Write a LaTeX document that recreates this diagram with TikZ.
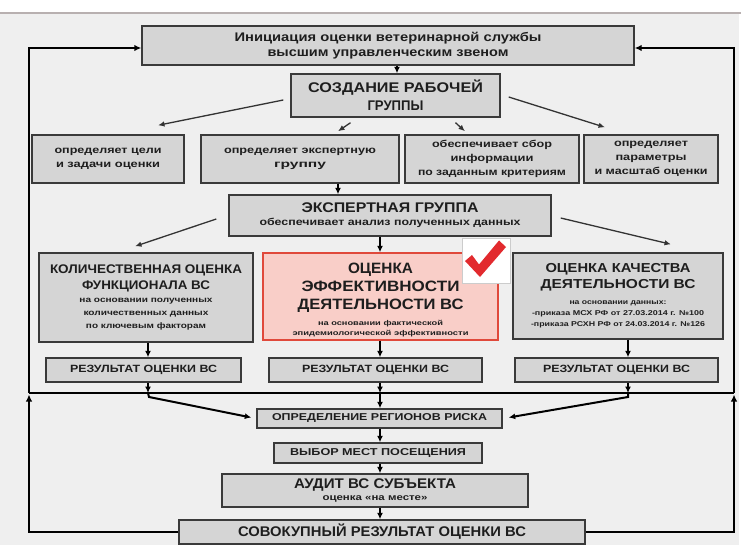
\documentclass[tikz,border=0pt]{standalone}
\usepackage{fontspec}
\setmainfont{Liberation Sans}
\usepackage{graphicx}
\usetikzlibrary{arrows.meta,calc}
\newlength\fitlen
\newcommand\fitw[2]{\settowidth\fitlen{#2}\scalebox{\fpeval{(#1)/(\the\fitlen)}}[1]{#2}}
\definecolor{boxfill}{HTML}{D5D5D5}
\definecolor{boxline}{HTML}{3A3A3A}
\definecolor{pinkfill}{HTML}{F9CEC8}
\definecolor{redline}{HTML}{E0493B}
\definecolor{bgc}{HTML}{EFEFEF}
\definecolor{stripc}{HTML}{B8B0B0}
\definecolor{checkred}{HTML}{E22A2E}
\definecolor{txt}{HTML}{1E1E1E}
\definecolor{arrgray}{HTML}{333333}
\begin{document}
\begin{tikzpicture}[x=1pt,y=-1pt,
  box/.style={rectangle, draw=boxline, fill=boxfill, line width=1.4pt, inner sep=0pt, align=center, text=txt},
  pinkbox/.style={box, draw=redline, fill=pinkfill},
  checkbox/.style={rectangle, draw=black!20, fill=white, line width=0.8pt, inner sep=0pt},
  arr/.style={line width=2pt, draw=black, -{Latex[length=6.5pt,width=6pt]}},
  tarr/.style={line width=1.3pt, draw=arrgray, -{Latex[length=6.5pt,width=5.5pt]}},
  fbline/.style={line width=2pt, draw=black},
  fbarr/.style={line width=2pt, draw=black, -{Latex[length=7pt,width=6.5pt]}}]
\useasboundingbox (0,0) rectangle (741,545);
\fill[white] (0,0) rectangle (741,545);
\fill[bgc] (0,13) rectangle (739,545);
\draw[stripc, line width=2pt] (0,13) -- (741,13);

% nodes
\node[box, minimum width=492pt, minimum height=39pt, font=\bfseries\fontsize{12.5}{15}\selectfont] (top) at (388,45.5)
  {\fitw{307}{Инициация оценки ветеринарной службы}\\\fitw{241}{высшим управленческим звеном}};
\node[box, minimum width=209pt, minimum height=43pt, font=\bfseries\fontsize{14}{18}\selectfont] (sozd) at (395.5,95.5)
  {\fitw{175}{СОЗДАНИЕ РАБОЧЕЙ}\\\fitw{56}{ГРУППЫ}};
\node[box, minimum width=152pt, minimum height=48pt, font=\bfseries\fontsize{10}{14}\selectfont] (b1) at (108,159)
  {\fitw{107}{определяет цели}\\\fitw{104}{и задачи оценки}};
\node[box, minimum width=198pt, minimum height=48pt, font=\bfseries\fontsize{10}{14}\selectfont] (b2) at (300,159)
  {\fitw{152}{определяет экспертную}\\\fitw{52}{группу}};
\node[box, minimum width=174pt, minimum height=48pt, font=\bfseries\fontsize{10}{14}\selectfont] (b3) at (492,159)
  {\fitw{120}{обеспечивает сбор}\\\fitw{83}{информации}\\\fitw{148}{по заданным критериям}};
\node[box, minimum width=134pt, minimum height=48pt, font=\bfseries\fontsize{10}{14}\selectfont] (b4) at (651,159)
  {\fitw{74}{определяет}\\\fitw{71}{параметры}\\\fitw{113}{и масштаб оценки}};
\node[box, minimum width=322pt, minimum height=41pt, font=\bfseries\fontsize{14}{13}\selectfont] (eksp) at (390,215.5)
  {\fitw{177}{ЭКСПЕРТНАЯ ГРУППА}\\{\fontsize{10}{13}\selectfont\fitw{261}{обеспечивает анализ полученных данных}}};
\node[box, minimum width=214pt, minimum height=89pt, font=\bfseries\fontsize{12.5}{13}\selectfont] (kol) at (146,297.5)
  {\fitw{192}{КОЛИЧЕСТВЕННАЯ ОЦЕНКА}\\[3pt]\fitw{128}{ФУНКЦИОНАЛА ВС}\\
   {\fontsize{8}{10}\selectfont\fitw{133}{на основании полученных}}\\
   {\fontsize{8}{10}\selectfont\fitw{125}{количественных данных}}\\
   {\fontsize{8}{10}\selectfont\fitw{120}{по ключевым факторам}}};
\node[pinkbox, minimum width=235pt, minimum height=87pt, font=\bfseries\fontsize{15}{18}\selectfont] (eff) at (380.5,296.5)
  {\rule{0pt}{18pt}\fitw{65}{ОЦЕНКА}\\\fitw{158}{ЭФФЕКТИВНОСТИ}\\\fitw{166}{ДЕЯТЕЛЬНОСТИ ВС}\\[-2pt]
   {\fontsize{7}{9}\selectfont\fitw{125}{на основании фактической}}\\[-8pt]
   {\fontsize{7}{9}\selectfont\fitw{176}{эпидемиологической эффективности}}};
\node[checkbox, minimum width=48pt, minimum height=45pt] (check) at (486,260.5) {};
\node[box, minimum width=210pt, minimum height=86pt, font=\bfseries\fontsize{13}{16}\selectfont] (kach) at (618,296)
  {\fitw{145}{ОЦЕНКА КАЧЕСТВА}\\\fitw{155}{ДЕЯТЕЛЬНОСТИ ВС}\\
   {\fontsize{7}{9}\selectfont\fitw{97}{на основании данных:}}\\[-5pt]
   {\fontsize{7}{9}\selectfont\fitw{172}{-приказа МСХ РФ от 27.03.2014 г. №100}}\\[-5pt]
   {\fontsize{7}{9}\selectfont\fitw{174}{-приказа РСХН РФ от 24.03.2014 г. №126}}};
\node[box, minimum width=195pt, minimum height=24pt, font=\bfseries\fontsize{10.5}{12}\selectfont] (r1) at (143.5,370)
  {\fitw{147}{РЕЗУЛЬТАТ ОЦЕНКИ ВС}};
\node[box, minimum width=213pt, minimum height=24pt, font=\bfseries\fontsize{10.5}{12}\selectfont] (r2) at (375.5,370)
  {\fitw{147}{РЕЗУЛЬТАТ ОЦЕНКИ ВС}};
\node[box, minimum width=203pt, minimum height=24pt, font=\bfseries\fontsize{10.5}{12}\selectfont] (r3) at (616.5,370)
  {\fitw{147}{РЕЗУЛЬТАТ ОЦЕНКИ ВС}};
\node[box, minimum width=245pt, minimum height=19pt, font=\bfseries\fontsize{10}{12}\selectfont] (orp) at (379.5,418.5)
  {\fitw{215}{ОПРЕДЕЛЕНИЕ РЕГИОНОВ РИСКА}};
\node[box, minimum width=208pt, minimum height=20pt, font=\bfseries\fontsize{10}{12}\selectfont] (vyb) at (378,453)
  {\fitw{176}{ВЫБОР МЕСТ ПОСЕЩЕНИЯ}};
\node[box, minimum width=306pt, minimum height=33pt, font=\bfseries\fontsize{14}{12.5}\selectfont] (aud) at (375,490.5)
  {\fitw{162}{АУДИТ ВС СУБЪЕКТА}\\{\fontsize{9}{12}\selectfont\fitw{105}{оценка «на месте»}}};
\node[box, minimum width=406pt, minimum height=24pt, font=\bfseries\fontsize{14}{16}\selectfont] (sov) at (382,532)
  {\fitw{288}{СОВОКУПНЫЙ РЕЗУЛЬТАТ ОЦЕНКИ ВС}};

% checkmark
\fill[checkred] ($(check.center)+(-21,0.5)$) -- ($(check.center)+(-14,-5.5)$) -- ($(check.center)+(-7,4)$)
  -- ($(check.center)+(13,-20)$) -- ($(check.center)+(20,-13.5)$) -- ($(check.center)+(-6,16.5)$) -- cycle;

% helper coordinates
\coordinate (cA) at (397,0);
\coordinate (cB) at (338,0);
\coordinate (cC) at (380,0);
\coordinate (cL) at (148,0);
\coordinate (cR) at (628,0);
\coordinate (fL) at (29,48);
\coordinate (fR) at (734,48);
\coordinate (hl) at (0,393);

% connectors
\draw[arr] (top.south -| cA) -- (sozd.north -| cA);
\draw[tarr] ($(sozd.west)+(-7,4.5)$) -- ($(b1.north)+(50,-9)$);
\draw[tarr] ($(sozd.south)+(-45,5)$) -- ($(b2.north)+(38,-3)$);
\draw[tarr] ($(sozd.south)+(60,5)$) -- ($(b3.north)+(-27,-3)$);
\draw[tarr] ($(sozd.east)+(8,1.5)$) -- ($(b4.north)+(-46,-7)$);
\draw[arr] (b2.south -| cB) -- (eksp.north -| cB);
\draw[tarr] ($(eksp.west)+(-12,3.5)$) -- ($(kol.north)+(-11,-6)$);
\draw[arr] (eksp.south -| cC) -- (eff.north -| cC);
\draw[tarr] ($(eksp.east)+(9,2.5)$) -- ($(kach.north)+(53,-8)$);
\draw[arr] (kol.south -| cL) -- (r1.north -| cL);
\draw[arr] (eff.south -| cC) -- (r2.north -| cC);
\draw[arr] (kach.south -| cR) -- (r3.north -| cR);

% feedback frame
\draw[fbarr] (hl -| fL) -- (fL) -- (top.west |- fL);
\draw[fbline] (hl -| fL) -- (hl -| fR);
\draw[fbarr] (hl -| fR) -- (fR) -- (top.east |- fR);
\draw[fbarr] (sov.west) -- (sov.west -| fL) -- ($(hl -| fL)+(0,1.5)$);
\draw[fbarr] (sov.east) -- (sov.east -| fR) -- ($(hl -| fR)+(0,1.5)$);

% results to risk regions
\draw[arr] (r1.south -| cL) -- (hl -| cL);
\draw[arr] (hl -| cL) -- ($(hl -| cL)+(1,4)$) -- ($(orp.west)+(-5,-1)$);
\draw[arr] (r2.south -| cC) -- (hl -| cC);
\draw[arr] (hl -| cC) -- (orp.north -| cC);
\draw[arr] (r3.south -| cR) -- (hl -| cR);
\draw[arr] (hl -| cR) -- ($(hl -| cR)+(0,4)$) -- ($(orp.east)+(6,-1)$);
\draw[arr] (orp.south -| cC) -- (vyb.north -| cC);
\draw[arr] (vyb.south -| cC) -- (aud.north -| cC);
\draw[arr] (aud.south -| cC) -- (sov.north -| cC);
\end{tikzpicture}
\end{document}
